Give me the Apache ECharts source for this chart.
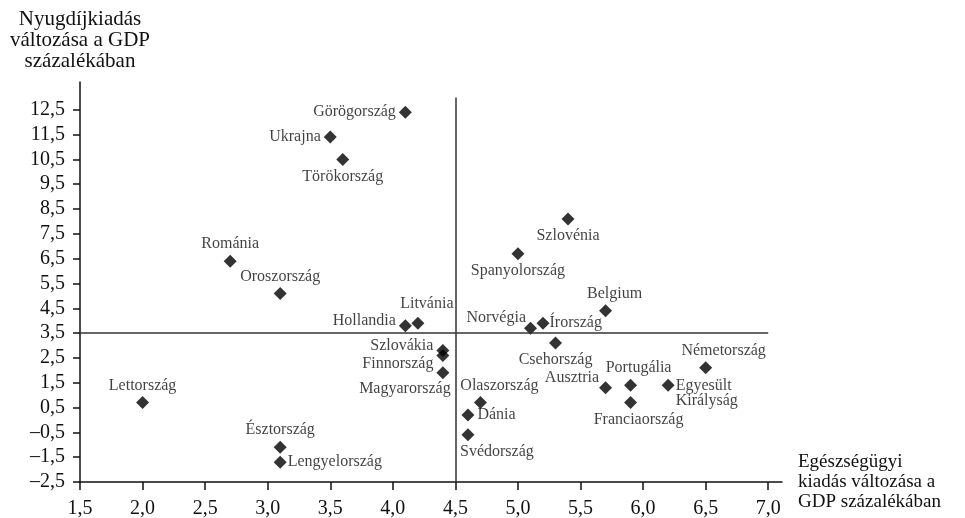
<!DOCTYPE html>
<html><head><meta charset="utf-8">
<script src="https://cdn.jsdelivr.net/npm/echarts@6/dist/echarts.min.js"></script>
<style>html,body{margin:0;padding:0;background:#fff}#c{width:965px;height:518px}</style>
</head><body><div id="c"></div>
<script>
// ---- data ----
const countries = ['Görögország','Ukrajna','Törökország','Románia','Oroszország','Lettország','Észtország','Lengyelország',
  'Hollandia','Litvánia','Szlovákia','Finnország','Magyarország','Norvégia','Írország','Belgium','Csehország','Ausztria',
  'Olaszország','Dánia','Svédország','Portugália','Franciaország','Egyesült Királyság','Németország','Spanyolország','Szlovénia'];
const healthChange = [4.1,3.5,3.6,2.7,3.1,2.0,3.1,3.1, 4.1,4.2,4.4,4.4,4.4,5.1,5.2,5.7,5.3,5.7, 4.7,4.6,4.6,5.9,5.9,6.2,6.5,5.0,5.4];
const pensionChange = [12.4,11.4,10.5,6.4,5.1,0.7,-1.1,-1.7, 3.8,3.9,2.8,2.6,1.9,3.7,3.9,4.4,3.1,1.3, 0.7,0.2,-0.6,1.4,0.7,1.4,2.1,6.7,8.1];
const xTicks = [1.5,2.0,2.5,3.0,3.5,4.0,4.5,5.0,5.5,6.0,6.5,7.0];
const yTicks = [-2.5,-1.5,-0.5,0.5,1.5,2.5,3.5,4.5,5.5,6.5,7.5,8.5,9.5,10.5,11.5,12.5];
const xCross = 4.5, yCross = 3.5;
const yTitle = 'Nyugdíjkiadás\nváltozása a GDP\nszázalékában';
const xTitle = 'Egészségügyi\nkiadás változása a\nGDP százalékában';

// ---- label placement (style) ----
const labelPlace = {
  'Görögország':{position:'left',distance:3},
  'Ukrajna':{position:'left',distance:3},
  'Törökország':{position:'bottom',distance:3},
  'Románia':{position:'top',distance:3},
  'Oroszország':{position:'top',distance:3},
  'Lettország':{position:'top',distance:3},
  'Észtország':{position:'top',distance:3},
  'Lengyelország':{position:'right',distance:1},
  'Hollandia':{position:'left',distance:3,offset:[0,-5]},
  'Litvánia':{position:'top',distance:5,offset:[9,0]},
  'Szlovákia':{position:'left',distance:3,offset:[0,-5]},
  'Finnország':{position:'left',distance:3,offset:[0,8]},
  'Magyarország':{position:'bottom',distance:2,offset:[-38,0]},
  'Norvégia':{position:'left',distance:0,offset:[2,-10]},
  'Írország':{position:'right',distance:0},
  'Belgium':{position:'top',distance:3,offset:[9,0]},
  'Csehország':{position:'bottom',distance:3},
  'Ausztria':{position:'left',distance:0,offset:[0,-10]},
  'Olaszország':{position:'top',distance:3,offset:[19,0]},
  'Dánia':{position:'right',distance:3},
  'Svédország':{position:'bottom',distance:3,offset:[29,0]},
  'Portugália':{position:'top',distance:3,offset:[8,0]},
  'Franciaország':{position:'bottom',distance:3,offset:[8,0]},
  'Egyesült Királyság':{position:'right',distance:1,offset:[0,8]},
  'Németország':{position:'top',distance:3,offset:[18,0]},
  'Spanyolország':{position:'bottom',distance:3},
  'Szlovénia':{position:'bottom',distance:3}
};

const FONT = '"Liberation Serif","Times New Roman",serif';
const fmt = v => v.toFixed(1).replace('.', ',').replace('-', '–');

const points = countries.map((n,i) => {
  const p = labelPlace[n];
  return {
    name: n,
    value: [healthChange[i], pensionChange[i]],
    label: {show:true, formatter: n.replace(' Kir','\nKir'), position:p.position, distance:p.distance}
  };
});

const chart = echarts.init(document.getElementById('c'), null, {renderer:'canvas'});
chart.setOption({
  animation:false,
  backgroundColor:'#fff',
  grid:{left:80, right:183, top:82, bottom:36, containLabel:false, outerBoundsMode:'none'},
  xAxis:{
    type:'value', min:1.5, max:7.11,
    name:xTitle, nameLocation:'end', nameGap:16,
    nameTextStyle:{fontFamily:FONT,fontSize:19,color:'#111',align:'left',verticalAlign:'middle',lineHeight:20,padding:[4,0,0,0]},
    axisLine:{show:true,onZero:false,lineStyle:{color:'#111',width:1.5}},
    axisTick:{show:true,length:8,inside:false,customValues:xTicks,lineStyle:{color:'#111',width:1.5}},
    axisLabel:{customValues:xTicks,formatter:fmt,fontFamily:FONT,fontSize:20,color:'#111',margin:17},
    splitLine:{show:false}
  },
  yAxis:{
    type:'value', min:-2.5, max:13.62,
    name:yTitle, nameLocation:'end', nameGap:10,
    nameTextStyle:{fontFamily:FONT,fontSize:21,color:'#111',align:'center',verticalAlign:'bottom',lineHeight:21},
    axisLine:{show:true,onZero:false,lineStyle:{color:'#111',width:1.5}},
    axisTick:{show:true,length:7,inside:false,customValues:yTicks,lineStyle:{color:'#111',width:1.5}},
    axisLabel:{customValues:yTicks,formatter:fmt,fontFamily:FONT,fontSize:20,color:'#111',margin:15},
    splitLine:{show:false}
  },
  series:[{
    type:'scatter',
    symbol:'diamond', symbolSize:13,
    itemStyle:{color:'#000'},
    label:{fontFamily:FONT,fontSize:16,color:'#111',lineHeight:15},
    labelLayout:function(params){
      const p = labelPlace[countries[params.dataIndex]];
      const o = (p && p.offset) || [0,0];
      return {dx:o[0], dy:o[1], hideOverlap:false};
    },
    data:points,
    markLine:{
      silent:true, symbol:'none', animation:false,
      label:{show:false},
      lineStyle:{color:'#333',width:1.5,type:'solid'},
      data:[
        [{coord:[xCross,-2.5]},{coord:[xCross,13.0]}],
        [{coord:[1.5,yCross]},{coord:[7.0,yCross]}]
      ]
    }
  }]
});
</script></body></html>
